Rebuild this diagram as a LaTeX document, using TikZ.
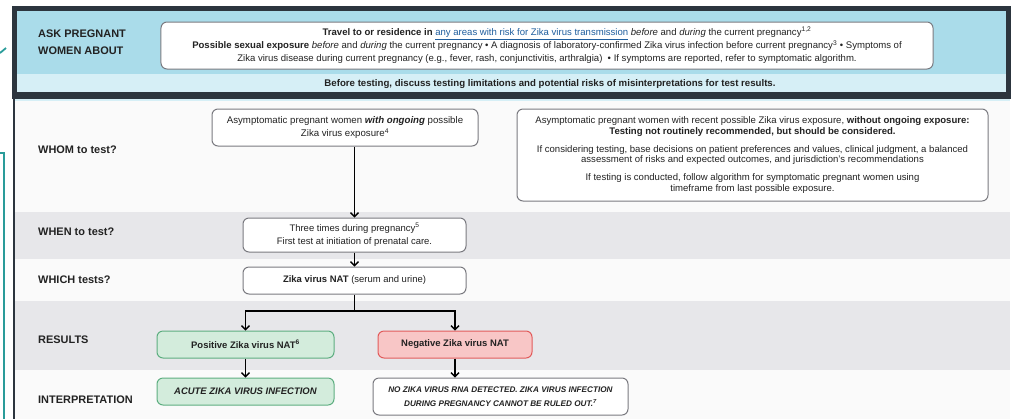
\documentclass[tikz,border=0pt]{standalone}
\usepackage{fontspec}
\setmainfont{Liberation Sans}
\usetikzlibrary{arrows.meta}

\definecolor{frame}{HTML}{2C353E}
\definecolor{skyA}{HTML}{AADCEA}
\definecolor{skyB}{HTML}{D6EFF6}
\definecolor{rowgray}{HTML}{E7E7EA}
\definecolor{rowlight}{HTML}{FAFAFA}
\definecolor{boxline}{HTML}{7A7A80}
\definecolor{posfill}{HTML}{D3ECDC}
\definecolor{posline}{HTML}{5DAE80}
\definecolor{negfill}{HTML}{F8C6C6}
\definecolor{negline}{HTML}{E25B5B}
\definecolor{linkblue}{HTML}{1F5E9E}
\definecolor{tealmark}{HTML}{2A9C9A}
\definecolor{txt}{HTML}{222222}

\tikzset{
  rowlabel/.style={anchor=west, inner sep=0pt, align=left,
    font=\fontsize{11}{17}\selectfont\bfseries, text=txt},
  card/.style={draw=boxline, line width=1bp, rounded corners=6bp, fill=white,
    align=center, inner sep=0pt, font=\fontsize{9.5}{13.5}\selectfont, text=txt},
  poscard/.style={card, draw=posline, fill=posfill},
  negcard/.style={card, draw=negline, fill=negfill},
  flowline/.style={line width=1.4bp, draw=black},
  flow/.style={flowline, -{Straight Barb[length=4bp,width=8bp,line width=1.4bp]}},
}

\begin{document}
\begin{tikzpicture}[x=1bp,y=-1bp]
\useasboundingbox (0,0) rectangle (1015,419);

% row backgrounds
\fill[rowlight] (15,99) rectangle (1010,212);
\fill[rowgray]  (15,212) rectangle (1010,259);
\fill[rowlight] (15,259) rectangle (1010,301);
\fill[rowgray]  (15,301) rectangle (1010,370);
\fill[rowlight] (15,370) rectangle (1010,419);
\fill[skyB] (15,98) rectangle (1010,101);

% left rule under the header
\draw[frame, line width=2bp] (14,98) -- (14,419);

% header panel
\fill[frame] (12,6) rectangle (1011,99);
\fill[skyA] (17,11) rectangle (1006,74);
\fill[skyB] (17,74) rectangle (1006,92);

% teal marks at the left edge
\draw[tealmark, line width=1.6bp] (0,153) -- (4,153) -- (4,419);
\draw[tealmark, line width=1.8bp] (0,53) -- (6,48);

% row labels
\node[rowlabel] (lblAsk) at (38,42.5) {ASK PREGNANT\\WOMEN ABOUT};
\node[rowlabel] (lblWhom) at (38,150) {WHOM to test?};
\node[rowlabel] (lblWhen) at (38,232) {WHEN to test?};
\node[rowlabel] (lblWhich) at (38,280) {WHICH tests?};
\node[rowlabel] (lblRes) at (38,340) {RESULTS};
\node[rowlabel] (lblInt) at (38,400) {INTERPRETATION};

% header boxes
\node[card, minimum width=772bp, minimum height=47bp, font=\fontsize{9.6}{13.3}\selectfont] (ask) at (547,45.5)
  {\hspace*{40bp}\textbf{Travel to or residence in} {\color{linkblue}\underline{any areas with risk for Zika virus transmission}} \textit{before} and \textit{during} the current pregnancy\textsuperscript{1,2}\\
   \textbf{Possible sexual exposure} \textit{before} and \textit{during} the current pregnancy \textbullet\ A diagnosis of laboratory-confirmed Zika virus infection before current pregnancy\textsuperscript{3} \textbullet\ Symptoms of\\
   Zika virus disease during current pregnancy (e.g., fever, rash, conjunctivitis, arthralgia) \ \textbullet\ If symptoms are reported, refer to symptomatic algorithm.};
\node[inner sep=0pt, font=\fontsize{9.7}{10}\selectfont\bfseries, text=txt] (caution) at (550,84)
  {Before testing, discuss testing limitations and potential risks of misinterpretations for test results.};

% whom
\node[card, minimum width=266bp, minimum height=37bp, font=\fontsize{9.7}{14}\selectfont] (whomA) at (345,127.5)
  {Asymptomatic pregnant women \textbf{\textit{with ongoing}} possible\\ Zika virus exposure\textsuperscript{4}};
\node[card, minimum width=471bp, minimum height=92bp, font=\fontsize{9.6}{10.6}\selectfont] (whomB) at (752.5,155)
  {Asymptomatic pregnant women with recent possible Zika virus exposure, \textbf{without ongoing exposure:}\\
   \textbf{Testing not routinely recommended, but should be considered.}\\[7.5bp]
   If considering testing, base decisions on patient preferences and values, clinical judgment, a balanced\\
   assessment of risks and expected outcomes, and jurisdiction's recommendations\\[7.5bp]
   If testing is conducted, follow algorithm for symptomatic pregnant women using\\
   timeframe from last possible exposure.};

% when / which
\node[card, minimum width=223bp, minimum height=34bp, font=\fontsize{9.5}{13}\selectfont] (when) at (354.5,235)
  {Three times during pregnancy\textsuperscript{5}\\ First test at initiation of prenatal care.};
\node[card, minimum width=223bp, minimum height=27bp] (which) at (354.5,280.5)
  {\textbf{Zika virus NAT} (serum and urine)};

% results
\node[poscard, minimum width=177bp, minimum height=27bp] (pos) at (245.5,344.5)
  {\textbf{Positive Zika virus NAT\textsuperscript{6}}};
\node[negcard, minimum width=154bp, minimum height=27bp] (neg) at (455,344.5)
  {\textbf{Negative Zika virus NAT}};

% interpretation
\node[poscard, minimum width=177bp, minimum height=27bp] (acute) at (245.5,391.5)
  {\textbf{\textit{ACUTE ZIKA VIRUS INFECTION}}};
\node[card, minimum width=255bp, minimum height=37bp, font=\fontsize{8.2}{14.5}\selectfont] (noRNA) at (500.5,396.5)
  {\textbf{\textit{NO ZIKA VIRUS RNA DETECTED. ZIKA VIRUS INFECTION}}\\
   \textbf{\textit{DURING PREGNANCY CANNOT BE RULED OUT.\textsuperscript{7}}}};

% connectors
\coordinate (split) at (354.5,311);
\draw[flow] (when.north |- whomA.south) -- (when.north);
\draw[flow] (when.south) -- (which.north);
\draw[flowline] (which.south) -- (split);
\draw[flow] (split) -| (pos.north);
\draw[flow] (split) -| (neg.north);
\draw[flow] (pos.south) -- (acute.north);
\draw[flow] (neg.south) -- (neg.south |- noRNA.north);
\end{tikzpicture}
\end{document}
